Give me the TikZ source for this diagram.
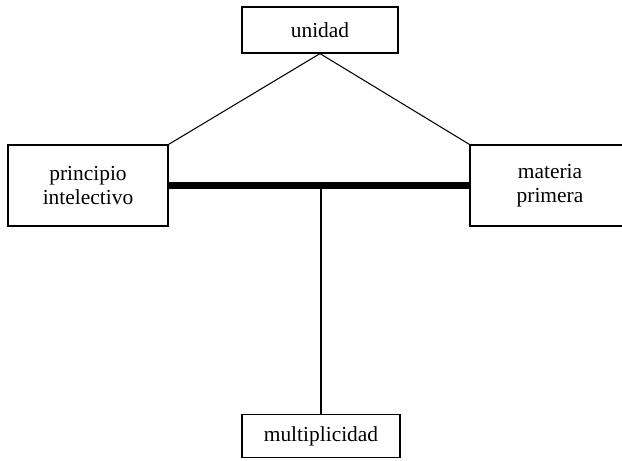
\documentclass[tikz,border=0pt]{standalone}
\usepackage{fontspec}
\setmainfont{Liberation Serif}
\usepackage{tikz}
\usetikzlibrary{positioning}

\begin{document}
\begin{tikzpicture}[
    x=0.02cm, y=-0.02cm,
    font=\fontsize{12.2}{13.7}\selectfont,
    concepto/.style={draw, line width=0.7pt, align=center, inner sep=0pt},
    enlace/.style={line width=0.6pt}
]
\useasboundingbox (0,0) rectangle (622,460);

\node[concepto, minimum width=3.12cm, minimum height=0.92cm] (unidad) at (320,30) {unidad};
\node[concepto, minimum width=3.2cm, minimum height=1.62cm] (principio) at (88,185.5) {principio\\intelectivo};
\node[concepto, minimum width=3.2cm, minimum height=1.62cm] (materia) at (550,185.5) {materia\\primera};
\node[concepto, minimum width=3.16cm, minimum height=0.86cm] (multi) at (321,436) {multiplicidad};

\draw[enlace] (unidad.south) -- (principio.north east);
\draw[enlace] (unidad.south) -- (materia.north west);
\draw[line width=4.5pt] (principio.east) -- (materia.west);
\draw[enlace] (multi.north |- principio.east) -- (multi.north);
\end{tikzpicture}
\end{document}
